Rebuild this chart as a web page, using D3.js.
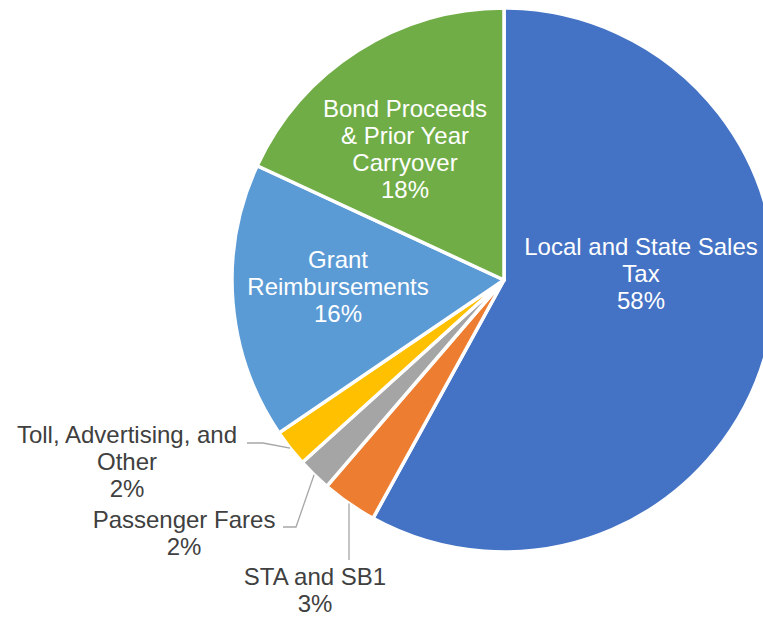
<!DOCTYPE html>
<html>
<head>
<meta charset="utf-8">
<script src="https://cdn.jsdelivr.net/npm/d3@7"></script>
<style>
  html, body { margin: 0; padding: 0; background: #fff; }
  svg { display: block; }
</style>
</head>
<body>
<div id="vis"></div>
<script>
// slice data, clockwise from 12 o'clock
var categories = ["Local and State Sales Tax", "STA and SB1", "Passenger Fares",
                  "Toll, Advertising, and Other", "Grant Reimbursements",
                  "Bond Proceeds & Prior Year Carryover"];
var shares = [58.0, 3.3, 2.0, 2.2, 16.4, 18.1];
var labelLines = [
    ["Local and State Sales", "Tax", "58%"],
    ["STA and SB1", "3%"],
    ["Passenger Fares", "2%"],
    ["Toll, Advertising, and", "Other", "2%"],
    ["Grant", "Reimbursements", "16%"],
    ["Bond Proceeds", "& Prior Year", "Carryover", "18%"]
];
var colours = ["#4472C4", "#ED7D31", "#A5A5A5", "#FFC000", "#5B9BD5", "#70AD47"];

var width = 763, height = 617;
var cx = 504, cy = 280, radius = 272;
var lineGap = 27;

// where each label block sits (centre x, first baseline), relative to the pie centre
var labelPos = [
    {x: 137, y: -25, inside: true},
    {x: -189, y: 305, inside: false, elbow: null, tail: [-155, 280]},
    {x: -320, y: 248, inside: false, elbow: [-208, 247], tail: [-221, 247]},
    {x: -377, y: 163, inside: false, elbow: [-241, 163], tail: [-257, 163]},
    {x: -166, y: -12, inside: true},
    {x: -99, y: -163, inside: true}
];

var svg = d3.select("#vis").append("svg")
    .attr("width", width)
    .attr("height", height);

var g = svg.append("g").attr("transform", "translate(" + cx + "," + cy + ")");

var pie = d3.pie().sort(null).value(function(d){ return d; });
var arcs = pie(shares);

var arc = d3.arc().innerRadius(0).outerRadius(radius);

g.selectAll(".slice")
    .data(arcs)
    .enter()
    .append("path")
    .attr("class", "slice")
    .attr("d", arc)
    .attr("fill", function(d, i){ return colours[i]; })
    .attr("stroke", "#fff")
    .attr("stroke-width", 3.5)
    .attr("stroke-linejoin", "round");

// leader lines for the small slices
var edgeArc = d3.arc().innerRadius(radius).outerRadius(radius);
arcs.forEach(function(d, i){
    var p = labelPos[i];
    if (p.inside) return;
    var start = edgeArc.centroid(d);
    var pts = [start];
    if (p.elbow) pts.push(p.elbow);
    pts.push(p.tail);
    g.append("path")
        .attr("d", d3.line()(pts))
        .attr("fill", "none")
        .attr("stroke", "#A6A6A6")
        .attr("stroke-width", 1.3);
});

// labels
arcs.forEach(function(d, i){
    var p = labelPos[i];
    var t = g.append("text")
        .attr("text-anchor", "middle")
        .attr("font-family", "'Liberation Sans', Arial, sans-serif")
        .attr("font-size", 24)
        .attr("fill", p.inside ? "#ffffff" : "#404040");
    labelLines[i].forEach(function(line, k){
        t.append("tspan")
            .attr("x", p.x)
            .attr("y", p.y + k * lineGap)
            .text(line);
    });
});
</script>
</body>
</html>
